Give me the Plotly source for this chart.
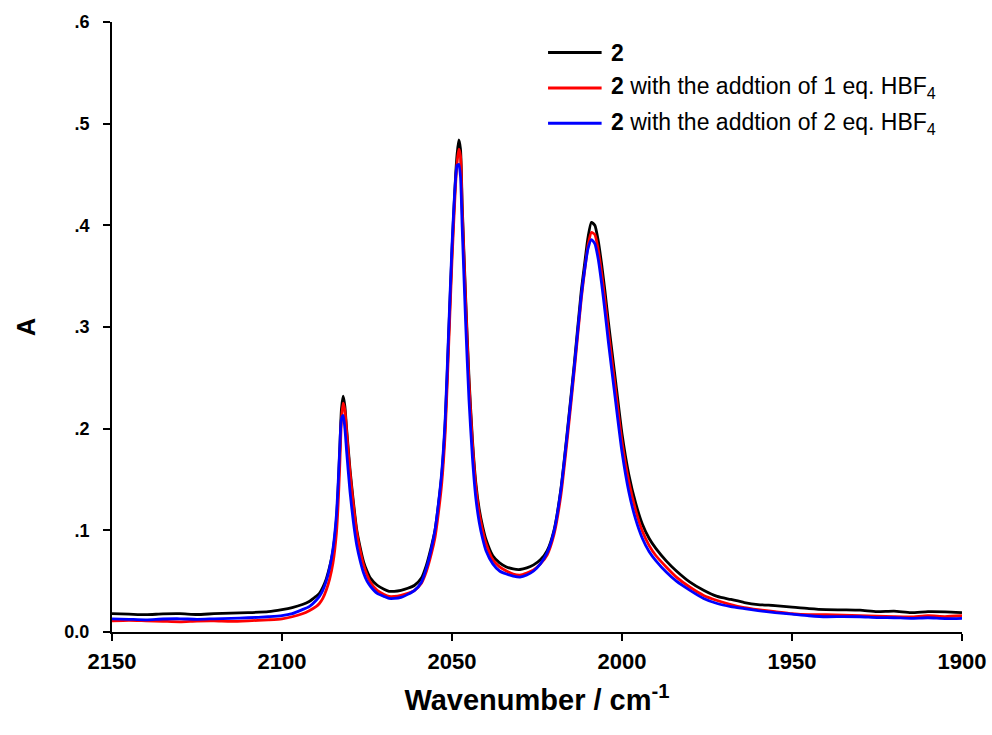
import plotly.graph_objects as go

# IR spectra (absorbance vs wavenumber) of compound 2 before/after HBF4 addition
wavenumber = [
    2150, 2145, 2140, 2135, 2130, 2125, 2120, 2115, 2110, 2104,
    2100, 2097, 2094, 2092, 2090, 2089, 2088, 2087, 2086, 2085,
    2084, 2083.5, 2083, 2082.5, 2082, 2081.5, 2081, 2080, 2079, 2078,
    2077, 2076, 2075, 2074, 2072, 2070, 2068.5, 2067, 2065, 2063,
    2061, 2059, 2057.5, 2056, 2055, 2054, 2053, 2052, 2051, 2050,
    2049, 2048.5, 2048, 2047.5, 2047, 2046, 2045, 2044, 2043, 2042,
    2041, 2040, 2038, 2036, 2034, 2032, 2030, 2028, 2026, 2024,
    2022, 2020, 2018, 2016, 2014, 2012, 2011, 2010, 2009, 2008,
    2007, 2006, 2005, 2004, 2002, 2000, 1998, 1996, 1994, 1992,
    1990, 1987, 1984, 1980, 1976, 1972, 1968, 1964, 1960, 1955,
    1950, 1945, 1940, 1935, 1930, 1925, 1920, 1915, 1910, 1905,
    1900,
]

abs_2 = [
    0.018, 0.0175, 0.017, 0.0178, 0.018, 0.0172, 0.018, 0.0185, 0.019, 0.020,
    0.022, 0.024, 0.027, 0.030, 0.035, 0.038, 0.044, 0.052, 0.064, 0.080,
    0.110, 0.140, 0.180, 0.220, 0.232, 0.222, 0.200, 0.160, 0.128, 0.100,
    0.083, 0.069, 0.060, 0.053, 0.046, 0.042, 0.040, 0.040, 0.041, 0.043,
    0.046, 0.053, 0.066, 0.085, 0.100, 0.125, 0.155, 0.205, 0.290, 0.375,
    0.445, 0.470, 0.484, 0.475, 0.420, 0.330, 0.250, 0.190, 0.147, 0.121,
    0.104, 0.091, 0.075, 0.068, 0.064, 0.062, 0.0615, 0.063, 0.066, 0.071,
    0.080, 0.100, 0.140, 0.200, 0.265, 0.335, 0.362, 0.388, 0.403, 0.400,
    0.385, 0.362, 0.335, 0.305, 0.250, 0.195, 0.155, 0.127, 0.106, 0.092,
    0.082, 0.070, 0.060, 0.049, 0.041, 0.035, 0.032, 0.029, 0.027, 0.026,
    0.0245, 0.023, 0.022, 0.0218, 0.0215, 0.020, 0.0205, 0.019, 0.020, 0.0198,
    0.019,
]

abs_2_1eq = [
    0.011, 0.0115, 0.011, 0.0105, 0.010, 0.0108, 0.011, 0.0105, 0.011, 0.012,
    0.013, 0.015, 0.018, 0.021, 0.025, 0.028, 0.033, 0.041, 0.052, 0.068,
    0.097, 0.125, 0.165, 0.210, 0.225, 0.218, 0.197, 0.157, 0.125, 0.098,
    0.080, 0.066, 0.056, 0.049, 0.041, 0.037, 0.035, 0.035, 0.036, 0.038,
    0.041, 0.048, 0.060, 0.078, 0.093, 0.117, 0.147, 0.196, 0.280, 0.366,
    0.437, 0.462, 0.475, 0.468, 0.415, 0.325, 0.245, 0.186, 0.143, 0.117,
    0.100, 0.087, 0.071, 0.064, 0.060, 0.057, 0.056, 0.058, 0.061, 0.067,
    0.076, 0.096, 0.134, 0.193, 0.258, 0.327, 0.355, 0.380, 0.393, 0.391,
    0.376, 0.353, 0.326, 0.296, 0.241, 0.187, 0.148, 0.120, 0.099, 0.085,
    0.075, 0.064, 0.054, 0.044, 0.036, 0.031, 0.027, 0.024, 0.022, 0.020,
    0.018, 0.017, 0.017, 0.0165, 0.016, 0.0155, 0.015, 0.0148, 0.016, 0.0152,
    0.016,
]

abs_2_2eq = [
    0.013, 0.0125, 0.012, 0.0128, 0.013, 0.0125, 0.013, 0.0135, 0.014, 0.015,
    0.016, 0.018, 0.022, 0.025, 0.031, 0.035, 0.041, 0.050, 0.063, 0.082,
    0.115, 0.145, 0.182, 0.210, 0.213, 0.200, 0.178, 0.138, 0.108, 0.085,
    0.070, 0.058, 0.050, 0.045, 0.038, 0.035, 0.033, 0.033, 0.034, 0.037,
    0.041, 0.049, 0.063, 0.083, 0.100, 0.126, 0.158, 0.210, 0.295, 0.380,
    0.443, 0.459, 0.460, 0.448, 0.398, 0.305, 0.228, 0.172, 0.132, 0.108,
    0.092, 0.080, 0.067, 0.060, 0.057, 0.055, 0.054, 0.056, 0.060, 0.067,
    0.078, 0.099, 0.139, 0.198, 0.262, 0.330, 0.356, 0.377, 0.386, 0.382,
    0.367, 0.343, 0.315, 0.285, 0.230, 0.177, 0.138, 0.111, 0.092, 0.079,
    0.070, 0.059, 0.050, 0.041, 0.033, 0.028, 0.025, 0.023, 0.021, 0.019,
    0.0175, 0.016, 0.015, 0.0152, 0.015, 0.0142, 0.014, 0.0135, 0.014, 0.0132,
    0.0135,
]

series_names = [
    "<b>2</b>",
    "<b>2</b> with the addtion of 1 eq. HBF<sub>4</sub>",
    "<b>2</b> with the addtion of 2 eq. HBF<sub>4</sub>",
]
series_colors = ["#000000", "#ff0000", "#0000ff"]
series_values = [abs_2, abs_2_1eq, abs_2_2eq]

x_ticks = [2150, 2100, 2050, 2000, 1950, 1900]
y_ticks = [0.0, 0.1, 0.2, 0.3, 0.4, 0.5, 0.6]
y_ticktext = ["0.0", ".1", ".2", ".3", ".4", ".5", ".6"]

FONT = "Liberation Sans, Arial, sans-serif"

fig = go.Figure()
for name, color, vals in zip(series_names, series_colors, series_values):
    fig.add_trace(go.Scatter(
        x=wavenumber, y=vals, mode="lines", name=name,
        line=dict(color=color, width=2.8, shape="spline", smoothing=0.6),
        showlegend=False,
    ))

# Hand-placed legend: short line samples with labels beside them
legend_x0, legend_x1, legend_tx = 0.513, 0.576, 0.585
legend_rows = [0.950, 0.892, 0.834]
for name, color, ry in zip(series_names, series_colors, legend_rows):
    fig.add_shape(type="line", xref="paper", yref="paper",
                  x0=legend_x0, x1=legend_x1, y0=ry, y1=ry,
                  line=dict(color=color, width=3))
    fig.add_annotation(xref="paper", yref="paper", x=legend_tx, y=ry,
                       text=name, showarrow=False, xanchor="left", yanchor="middle",
                       font=dict(family=FONT, size=23, color="#000000"))

fig.update_layout(
    width=992, height=735,
    margin=dict(l=112, r=30, t=22, b=103),
    paper_bgcolor="white", plot_bgcolor="white",
    font=dict(family=FONT, color="#000000"),
    xaxis=dict(
        range=[2150, 1900], tickvals=x_ticks, automargin=False,
        showline=True, linecolor="#000000", linewidth=2,
        ticks="outside", ticklen=7, tickwidth=1.5, tickcolor="#000000",
        showgrid=False, zeroline=False, ticklabelstandoff=2,
        tickfont=dict(family=FONT, size=22, weight="bold"),
        title=dict(text="Wavenumber / cm<sup>-1</sup>", standoff=16,
                   font=dict(family=FONT, size=29, weight="bold")),
    ),
    yaxis=dict(
        range=[0, 0.6], tickvals=y_ticks, ticktext=y_ticktext, automargin=False,
        showline=True, linecolor="#000000", linewidth=2,
        ticks="outside", ticklen=7, tickwidth=1.5, tickcolor="#000000",
        showgrid=False, zeroline=False, ticklabelstandoff=10,
        tickfont=dict(family=FONT, size=18, weight="bold"),
        title=dict(text="A", standoff=22,
                   font=dict(family=FONT, size=25, weight="bold")),
    ),
)

fig.write_html("out.html")
